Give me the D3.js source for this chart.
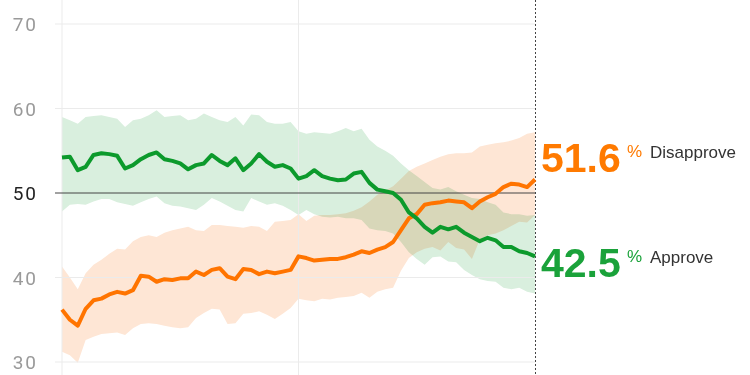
<!DOCTYPE html>
<html>
<head>
<meta charset="utf-8">
<script src="https://cdn.jsdelivr.net/npm/d3@7"></script>
<style>
  body { margin: 0; background: #fff; }
  svg text { font-family: "Liberation Sans", Arial, sans-serif; }
</style>
</head>
<body>
<div id="chart-area"></div>
<script>
// days since start, one reading every 5 days
const days = d3.range(0, 301, 5);
const yTicks = [30, 40, 50, 60, 70];
const xGrid = [0, 150];

const approve = [54.2, 54.3, 52.7, 53.1, 54.5, 54.7, 54.6, 54.4, 52.9, 53.3,
  54.0, 54.5, 54.8, 54.0, 53.8, 53.5, 52.8, 53.3, 53.5, 54.5,
  53.8, 53.3, 54.1, 52.7, 53.5, 54.6, 53.7, 53.1, 53.3, 52.9,
  51.7, 52.0, 52.7, 52.0, 51.7, 51.5, 51.6, 52.3, 52.5, 51.2,
  50.4, 50.2, 50.0, 49.2, 47.7, 47.0, 46.0, 45.3, 46.0, 45.7,
  46.0, 45.3, 44.8, 44.3, 44.7, 44.4, 43.6, 43.6, 43.1, 42.9, 42.5];
const approveHi = [59.0, 58.6, 58.2, 59.0, 59.1, 59.2, 59.0, 58.8, 57.8, 58.6,
  58.8, 59.2, 59.8, 59.0, 59.1, 59.2, 58.6, 58.8, 59.4, 59.0,
  58.6, 58.4, 59.0, 58.0, 59.3, 59.2, 58.4, 58.2, 58.2, 58.4,
  57.3, 57.0, 57.2, 57.1, 57.0, 57.3, 57.7, 57.3, 57.6, 56.3,
  55.5, 55.0, 54.4, 53.5, 52.7, 52.0, 51.3, 50.6, 50.4, 50.7,
  50.2, 49.8, 49.4, 49.3, 48.9, 48.6, 47.7, 47.5, 47.5, 47.3, 47.4];
const approveLo = [47.8, 48.6, 48.7, 48.6, 49.0, 49.3, 49.3, 48.9, 48.7, 48.5,
  48.9, 49.3, 49.6, 48.8, 48.5, 48.4, 48.2, 48.0, 48.6, 49.4,
  49.0, 48.5, 48.0, 47.8, 49.4, 49.0, 48.6, 48.8, 48.5, 48.0,
  47.4, 48.0, 47.5, 47.2, 47.1, 47.2, 47.0, 47.0, 46.8, 45.8,
  45.6, 45.5, 45.2, 44.2, 43.0, 42.2, 41.5, 42.4, 42.5, 41.9,
  41.8, 40.9, 40.3, 39.8, 39.6, 39.5, 38.8, 38.6, 38.8, 38.3, 38.1];

const disapprove = [36.2, 35.0, 34.3, 36.3, 37.3, 37.5, 38.0, 38.3, 38.1, 38.5,
  40.2, 40.1, 39.5, 39.8, 39.7, 39.9, 39.9, 40.7, 40.3, 40.9,
  41.1, 40.1, 39.8, 41.0, 40.9, 40.4, 40.7, 40.5, 40.7, 40.9,
  42.5, 42.3, 42.0, 42.1, 42.2, 42.2, 42.4, 42.7, 43.1, 42.9,
  43.3, 43.6, 44.2, 45.6, 47.0, 47.5, 48.6, 48.8, 48.9, 49.1,
  49.0, 48.9, 48.2, 49.0, 49.5, 49.9, 50.7, 51.1, 51.0, 50.7, 51.6];
const disapproveHi = [41.3, 40.0, 38.6, 40.5, 41.5, 42.1, 42.8, 43.4, 43.3, 44.3,
  44.8, 45.0, 44.8, 45.3, 45.6, 45.8, 46.0, 45.6, 45.5, 46.2,
  46.2, 46.1, 46.0, 45.9, 46.1, 46.0, 45.5, 46.6, 46.7, 46.8,
  47.5, 46.7, 47.3, 47.4, 47.4, 47.5, 47.6, 47.9, 48.3, 49.0,
  49.8, 50.3, 50.8, 51.7, 52.6, 53.1, 53.5, 53.9, 54.3, 54.6,
  54.7, 54.7, 54.8, 55.5, 55.7, 55.9, 56.0, 56.2, 56.5, 57.0, 57.2];
const disapproveLo = [31.2, 30.8, 29.9, 32.6, 33.0, 33.3, 33.4, 33.5, 33.2, 34.0,
  34.5, 34.6, 34.5, 34.3, 34.1, 34.0, 34.1, 35.2, 35.8, 36.3,
  36.2, 34.5, 34.6, 35.7, 35.8, 36.0, 35.6, 35.1, 35.7, 36.4,
  37.5, 37.3, 37.2, 37.5, 37.4, 37.6, 37.7, 37.8, 38.2, 37.6,
  38.3, 38.6, 38.8, 40.8, 42.3, 43.0, 43.4, 43.6, 43.2, 44.2,
  43.5, 43.3, 42.2, 44.5, 45.0, 45.2, 45.6, 46.1, 46.6, 46.5, 47.4];

const width = 750, height = 375;
const svg = d3.select("#chart-area")
    .append("svg")
    .attr("width", width)
    .attr("height", height);

const x = d3.scaleLinear().domain([0, 300]).range([62, 535]);
const y = d3.scaleLinear().domain([30, 70]).range([362, 24]);

const series = [
    { name: "Disapprove", mid: disapprove, hi: disapproveHi, lo: disapproveLo,
      color: "#ff7400", band: "#fee6d5", text: "#ff7a00", dy: -7 },
    { name: "Approve", mid: approve, hi: approveHi, lo: approveLo,
      color: "#0c9a2c", band: "#d9efde", text: "#1aa23a", dy: 21 }
];

// bands
const area = d3.area()
    .x((d, i) => x(days[i]))
    .y0(d => y(d[0]))
    .y1(d => y(d[1]));
svg.append("g")
    .selectAll("path")
    .data(series)
    .join("path")
    .attr("d", s => area(s.lo.map((v, i) => [v, s.hi[i]])))
    .attr("fill", s => s.band)
    .style("mix-blend-mode", "multiply");

// grid
svg.append("g")
    .selectAll("line")
    .data(xGrid)
    .join("line")
    .attr("x1", d => x(d)).attr("x2", d => x(d))
    .attr("y1", 0).attr("y2", height)
    .attr("stroke", "#ebebeb");
svg.append("g")
    .selectAll("line")
    .data(yTicks)
    .join("line")
    .attr("x1", 55).attr("x2", x(300))
    .attr("y1", d => y(d)).attr("y2", d => y(d))
    .attr("stroke", d => d === 50 ? "#444" : "#ebebeb")
    .attr("stroke-width", 1);

// y labels
svg.append("g")
    .selectAll("text")
    .data(yTicks)
    .join("text")
    .attr("x", 38)
    .attr("y", d => y(d) + 7)
    .attr("text-anchor", "end")
    .attr("font-size", "19px")
    .attr("letter-spacing", "2px")
    .style("font-family", "Roboto, sans-serif")
    .attr("fill", d => d === 50 ? "#222" : "#9a9a9a")
    .text(d => d);

// today line
svg.append("line")
    .attr("x1", x(300) + 0.5).attr("x2", x(300) + 0.5)
    .attr("y1", 0).attr("y2", height)
    .attr("stroke", "#444")
    .attr("stroke-dasharray", "2,2");

// lines
const line = d3.line()
    .x((d, i) => x(days[i]))
    .y(d => y(d));
svg.append("g")
    .selectAll("path")
    .data(series)
    .join("path")
    .attr("d", s => line(s.mid))
    .attr("fill", "none")
    .attr("stroke", s => s.color)
    .attr("stroke-width", 4)
    .attr("stroke-linejoin", "round");

// end labels
const labels = svg.append("g")
    .selectAll("g")
    .data(series)
    .join("g")
    .attr("transform", s => "translate(541, " + (y(s.mid[s.mid.length - 1]) + s.dy) + ")");
labels.append("text")
    .attr("font-size", "41px")
    .attr("font-weight", "bold")
    .attr("fill", s => s.text)
    .text(s => s.mid[s.mid.length - 1].toFixed(1));
labels.append("text")
    .attr("x", 86)
    .attr("y", -15)
    .attr("font-size", "17px")
    .attr("fill", s => s.text)
    .text("%");
labels.append("text")
    .attr("x", 109)
    .attr("y", -14)
    .attr("font-size", "17px")
    .attr("fill", "#333")
    .text(s => s.name);
</script>
</body>
</html>
